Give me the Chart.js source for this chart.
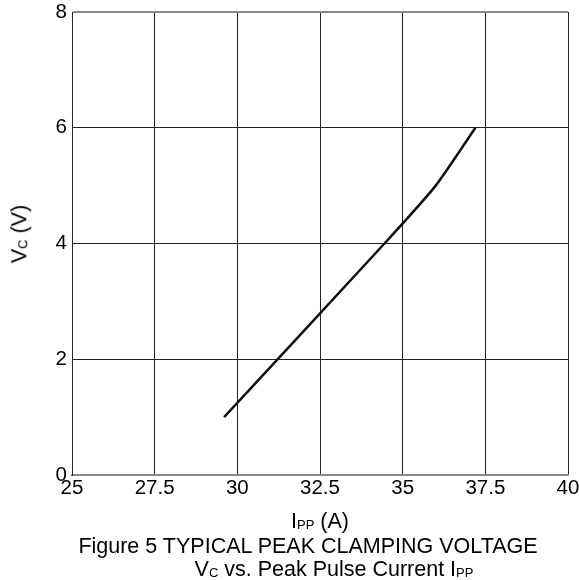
<!DOCTYPE html>
<html>
<head>
<meta charset="utf-8">
<script src="https://cdn.jsdelivr.net/npm/chart.js@4"></script>
<style>
  html, body { margin: 0; padding: 0; background: #fff; }
  #wrap { position: relative; width: 579px; height: 580px; font-family: "Liberation Sans", Arial, sans-serif; color: #000; }
  canvas { position: absolute; left: 0; top: 0; }
  .lbl { position: absolute; white-space: nowrap; font-size: 21.5px; line-height: 1; }
  .lbl sub { font-size: 13px; vertical-align: -1px; }
  #ytitle { left: 20px; top: 234px; transform: translate(-50%, -50%) rotate(-90deg); }
  #xtitle { left: 320px; top: 522px; transform: translate(-50%, -50%); }
  #cap1 { left: 308px; top: 547px; transform: translate(-50%, -50%); }
  #cap2 { left: 334px; top: 570px; transform: translate(-50%, -50%); }
</style>
</head>
<body>
<div id="wrap">
  <canvas id="chart" width="579" height="580"></canvas>
  <div class="lbl" id="ytitle">V<sub>C</sub> (V)</div>
  <div class="lbl" id="xtitle">I<sub>PP</sub> (A)</div>
  <div class="lbl" id="cap1">Figure 5 TYPICAL PEAK CLAMPING VOLTAGE</div>
  <div class="lbl" id="cap2">V<sub>C</sub> vs. Peak Pulse Current I<sub>PP</sub></div>
</div>
<script>
const currentIpp = [29.6, 34.45, 36.0, 37.2];
const clampVc = [1.0, 4.0, 5.0, 6.0];
const xTicks = [25, 27.5, 30, 32.5, 35, 37.5, 40];
const yTicks = [0, 2, 4, 6, 8];

const tickFont = { family: "'Liberation Sans', Arial, sans-serif", size: 20.5 };

new Chart(document.getElementById("chart"), {
  type: "scatter",
  data: {
    datasets: [
      {
        data: currentIpp.map((x, i) => ({ x, y: clampVc[i] })),
        showLine: true,
        borderColor: "#111",
        borderWidth: 2.5,
        pointRadius: 0,
        tension: 0.2,
      },
    ],
  },
  options: {
    responsive: false,
    animation: false,
    layout: { padding: { top: 12, right: 11, bottom: 75, left: 0 } },
    plugins: { legend: { display: false }, tooltip: { enabled: false } },
    scales: {
      x: {
        min: 25,
        max: 40,
        afterBuildTicks: (s) => { s.ticks = xTicks.map((v) => ({ value: v })); },
        afterFit: (s) => { s.height = 30; s.paddingRight = 0; s.paddingLeft = 0; },
        ticks: { color: "#000", font: tickFont, padding: 1, maxRotation: 0, autoSkip: false },
        grid: { color: "#222", lineWidth: 1, drawTicks: false },
        border: { color: "#888", width: 2 },
      },
      y: {
        min: 0,
        max: 8,
        afterBuildTicks: (s) => { s.ticks = yTicks.map((v) => ({ value: v })); },
        afterFit: (s) => { s.width = 72; s.paddingTop = 0; s.paddingBottom = 0; },
        ticks: { color: "#000", font: tickFont, padding: 5 },
        grid: {
          color: (ctx) => (ctx.tick && ctx.tick.value === 8 ? "#888" : "#222"),
          lineWidth: (ctx) => (ctx.tick && ctx.tick.value === 8 ? 2 : 1),
          drawTicks: false,
        },
        border: { color: "#222", width: 1 },
      },
    },
  },
});
</script>
</body>
</html>
